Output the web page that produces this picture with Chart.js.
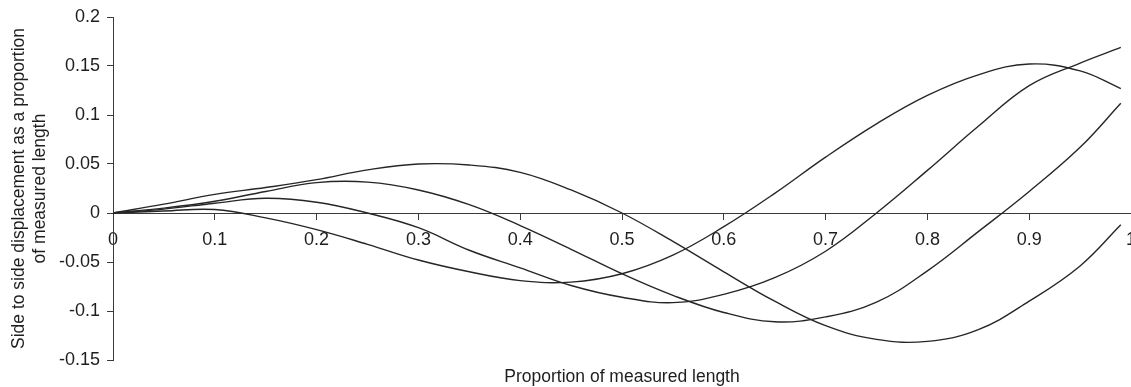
<!DOCTYPE html>
<html>
<head>
<meta charset="utf-8">
<script src="https://cdn.jsdelivr.net/npm/chart.js@4/dist/chart.umd.min.js"></script>
<style>
  html, body { margin: 0; padding: 0; background: #fff; }
  #wrap { position: relative; width: 1131px; height: 387px; }
</style>
</head>
<body>
<div id="wrap"><canvas id="chart"></canvas></div>
<script>
// Position along the body, as a proportion of measured length
const lengthPositions = [0, 0.05, 0.1, 0.15, 0.2, 0.25, 0.3, 0.35, 0.4, 0.45, 0.5,
                         0.55, 0.6, 0.65, 0.7, 0.75, 0.8, 0.85, 0.9, 0.95, 0.99];

// Side to side displacement of each traced body wave
const wave1 = [0, 0.009, 0.019, 0.026, 0.034, 0.044, 0.050, 0.049, 0.0415, 0.0235, 0,
               -0.029, -0.060, -0.090, -0.115, -0.129, -0.131, -0.119, -0.090, -0.054, -0.012];
const wave2 = [0, 0.005, 0.012, 0.022, 0.031, 0.0315, 0.0235, 0.0085, -0.0128, -0.037, -0.062,
               -0.084, -0.1015, -0.111, -0.106, -0.091, -0.059, -0.019, 0.022, 0.067, 0.112];
const wave3 = [0, 0.004, 0.010, 0.015, 0.011, 0, -0.015, -0.038, -0.056, -0.074, -0.086,
               -0.0915, -0.083, -0.066, -0.039, 0, 0.0435, 0.0885, 0.130, 0.153, 0.169];
const wave4 = [0, 0.002, 0.0035, -0.005, -0.017, -0.032, -0.048, -0.060, -0.069, -0.0705, -0.062,
               -0.043, -0.014, 0.020, 0.057, 0.091, 0.120, 0.141, 0.152, 0.145, 0.127];

// Axis ticks
const xTickValues = [0, 0.1, 0.2, 0.3, 0.4, 0.5, 0.6, 0.7, 0.8, 0.9, 1];
const xTickLabels = ['0', '0.1', '0.2', '0.3', '0.4', '0.5', '0.6', '0.7', '0.8', '0.9', '1'];
const yTickValues = [-0.15, -0.1, -0.05, 0, 0.05, 0.1, 0.15, 0.2];
const yTickLabels = ['-0.15', '-0.1', '-0.05', '0', '0.05', '0.1', '0.15', '0.2'];

const xTitle = 'Proportion of measured length';
const yTitle = ['Side to side displacement as a proportion', 'of measured length'];

const FONT_FAMILY = '"Liberation Sans", Arial, sans-serif';
const TICK_SIZE = 18;
const TITLE_SIZE = 17.5;
const TEXT_COLOR = '#1e1e1e';
const AXIS_COLOR = '#3a3a3a';
const LINE_COLOR = '#262626';

Chart.defaults.font.family = FONT_FAMILY;
Chart.defaults.font.size = TICK_SIZE;
Chart.defaults.color = TEXT_COLOR;

function toPoints(values) {
  return values.map((v, i) => ({ x: lengthPositions[i], y: v }));
}

const waves = [wave1, wave2, wave3, wave4];

// x-axis title sits centred under the plot area, below the lowest y tick
const bottomTitle = {
  id: 'bottomTitle',
  afterDraw(chart) {
    const { ctx, chartArea } = chart;
    ctx.save();
    ctx.font = `${TITLE_SIZE}px ${FONT_FAMILY}`;
    ctx.fillStyle = TEXT_COLOR;
    ctx.textAlign = 'center';
    ctx.textBaseline = 'middle';
    ctx.fillText(xTitle, (chartArea.left + chartArea.right) / 2, 377);
    ctx.restore();
  }
};

new Chart(document.getElementById('chart'), {
  type: 'line',
  data: {
    datasets: waves.map((w, i) => ({
      label: 'Wave ' + (i + 1),
      data: toPoints(w),
      borderColor: LINE_COLOR,
      borderWidth: 1.4,
      pointRadius: 0,
      fill: false,
      tension: 0.4
    }))
  },
  options: {
    responsive: true,
    maintainAspectRatio: false,
    animation: false,
    events: [],
    layout: { padding: { top: 17, right: 0, bottom: 27, left: 0 } },
    plugins: {
      legend: { display: false },
      tooltip: { enabled: false },
      title: { display: false }
    },
    scales: {
      x: {
        type: 'linear',
        position: { y: 0 },
        min: 0,
        max: 1,
        afterBuildTicks: s => { s.ticks = xTickValues.map(v => ({ value: v })); },
        afterFit: s => { s.height = 0; s.paddingLeft = 0; s.paddingRight = 0; },
        ticks: {
          autoSkip: false,
          maxRotation: 0,
          padding: 10.5,
          color: TEXT_COLOR,
          callback: (v, i) => xTickLabels[i]
        },
        grid: {
          drawOnChartArea: false,
          drawTicks: true,
          tickLength: 6,
          tickColor: AXIS_COLOR
        },
        border: { display: true, color: AXIS_COLOR, width: 1 }
      },
      y: {
        type: 'linear',
        position: 'left',
        min: -0.15,
        max: 0.2,
        afterBuildTicks: s => { s.ticks = yTickValues.map(v => ({ value: v })); },
        afterFit: s => { s.width = 113; s.paddingTop = 0; s.paddingBottom = 0; },
        ticks: {
          autoSkip: false,
          padding: 7,
          color: TEXT_COLOR,
          callback: (v, i) => yTickLabels[i]
        },
        grid: {
          drawOnChartArea: false,
          drawTicks: true,
          tickLength: 6,
          tickColor: AXIS_COLOR
        },
        border: { display: true, color: AXIS_COLOR, width: 1 },
        title: {
          display: true,
          text: yTitle,
          color: TEXT_COLOR,
          padding: { top: 8.5, bottom: 0 },
          font: { size: TITLE_SIZE, family: FONT_FAMILY }
        }
      }
    }
  },
  plugins: [bottomTitle]
});
</script>
</body>
</html>
